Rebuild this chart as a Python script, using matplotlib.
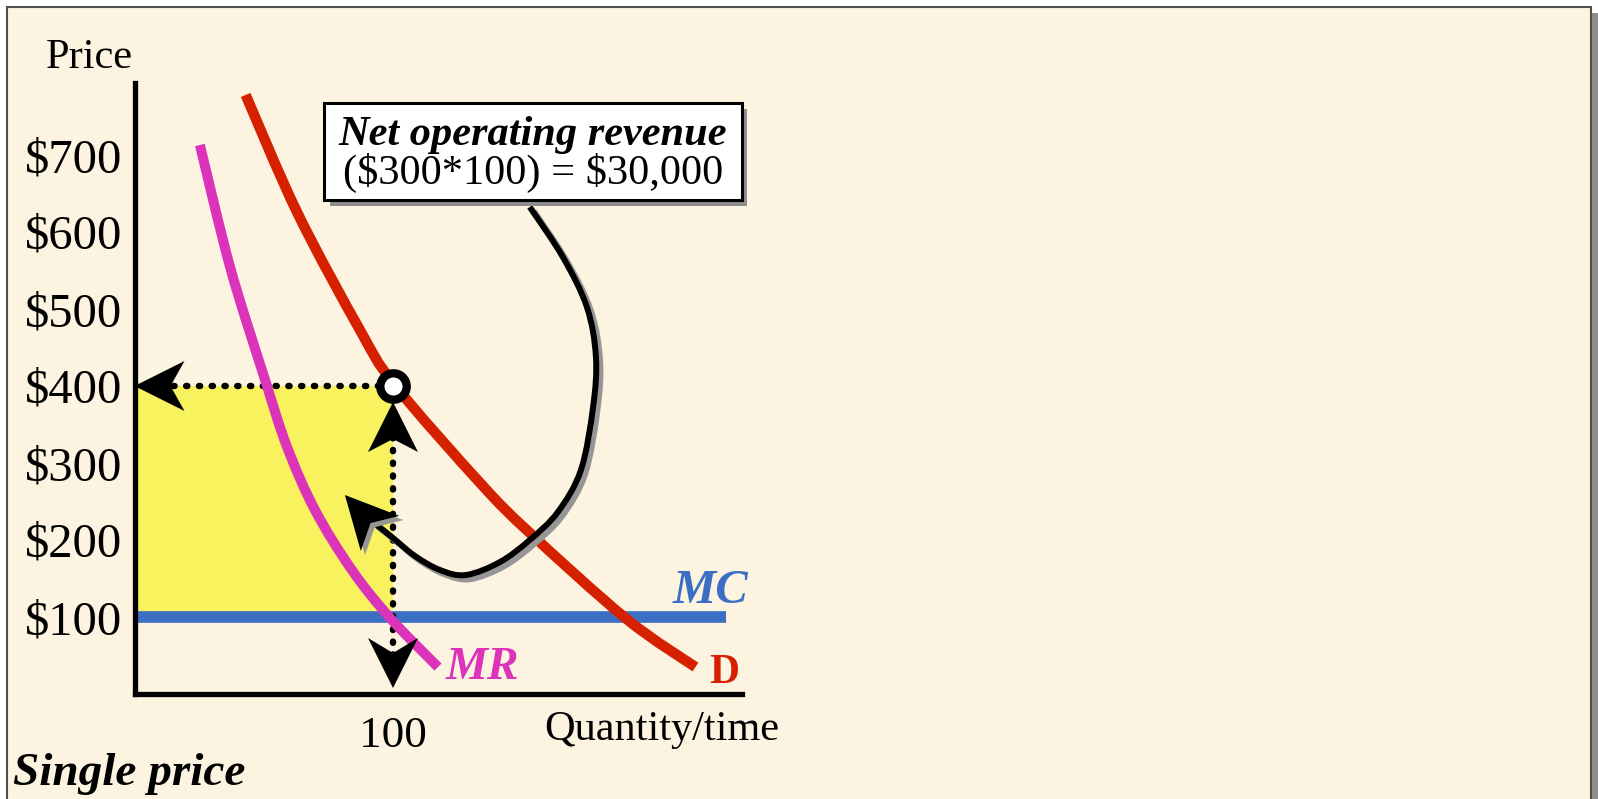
import numpy as np
import matplotlib
matplotlib.use("Agg")
import matplotlib.pyplot as plt
from matplotlib.patches import Rectangle, Polygon, PathPatch
from matplotlib.path import Path
from matplotlib import transforms

plt.rcParams["text.parse_math"] = False

# ---------------- data ----------------
price_ticks = [100, 200, 300, 400, 500, 600, 700]
price_tick_labels = ["$100", "$200", "$300", "$400", "$500", "$600", "$700"]
qty_ticks = [100]
qty_tick_labels = ["100"]

demand_q = [43, 63, 87, 100.5, 134, 153, 190.5, 217]
demand_p = [778, 625, 474, 402, 273, 209, 97, 35]

mr_q = [25.3, 37.1, 50.5, 59.0, 69.8, 84.1, 98.8, 117.4]
mr_p = [713, 553, 408, 321, 239, 161, 99, 35]

mc_price = 100
mc_q = [0, 229]

single_q = 100
single_p = 400

callout_q = [152.9, 165.7, 175.0, 178.5, 177.4, 172.7, 163.8, 152.9, 141.4, 128.2, 118.2, 108.5, 100.0, 92.3]
callout_p = [632.5, 567.5, 502.6, 437.7, 372.7, 290.9, 236.4, 200.0, 171.4, 154.5, 161.0, 179.2, 202.6, 223.4]
callout_tip = (81.4, 258.4)
callout_back = (95, 208.4)

box_title = "Net operating revenue"
box_formula = "($300*100) = $30,000"

# ---------------- figure ----------------
W, H = 1598, 799
fig = plt.figure(figsize=(W / 100, H / 100), dpi=100)
fig.patch.set_facecolor("white")
SERIF = "Liberation Serif"
BG = "#fcf4e1"

def fx(x):
    return x / W

def fy(y):
    return 1 - y / H

# slide frame with shadow
fig.add_artist(Rectangle((fx(1591), fy(805)), 7 / W, (805 - 13) / H,
                         transform=fig.transFigure, fc="#8e8e8e", ec="none", zorder=-3))
fig.add_artist(Rectangle((fx(7), fy(805)), (1591 - 7) / W, (805 - 7) / H,
                         transform=fig.transFigure, fc=BG, ec="#505050", lw=1.5, zorder=-2))

# axes
x0, y0 = 134.5, 694
sx, sy = 2.585, 0.77
xmax, ymax = 235, 793.5
ax = fig.add_axes([fx(x0), (H - y0) / H, xmax * sx / W, ymax * sy / H])
ax.set_xlim(0, xmax)
ax.set_ylim(0, ymax)
ax.patch.set_alpha(0)
for s in ["top", "right"]:
    ax.spines[s].set_visible(False)
for s in ["left", "bottom"]:
    ax.spines[s].set_linewidth(3.8)
    ax.spines[s].set_color("black")
    ax.spines[s].set_zorder(7)

ax.set_yticks(price_ticks)
ax.set_yticklabels(price_tick_labels, fontfamily=SERIF, fontsize=35)
ax.set_xticks(qty_ticks)
ax.set_xticklabels(qty_tick_labels, fontfamily=SERIF, fontsize=32.5)
ax.tick_params(axis="y", length=0, pad=9)
ax.tick_params(axis="x", length=0, pad=16)

fig.canvas.draw()

def smooth_path(xs, ys):
    pts = ax.transData.transform(np.column_stack([xs, ys]))
    n = len(pts)
    verts = [pts[0]]
    codes = [Path.MOVETO]
    for i in range(n - 1):
        p0 = pts[i - 1] if i > 0 else pts[i]
        p1 = pts[i]
        p2 = pts[i + 1]
        p3 = pts[i + 2] if i + 2 < n else pts[i + 1]
        verts += [p1 + (p2 - p0) / 6, p2 - (p3 - p1) / 6, p2]
        codes += [Path.CURVE4] * 3
    verts = ax.transData.inverted().transform(np.array(verts))
    return Path(verts, codes)

def stealth(tip, direction, length=50, half=25, notch=14, color="black",
            zorder=9, tip_offset_px=(0, 0), shadow=False):
    t = ax.transData.transform(tip) + np.array(tip_offset_px)
    d = ax.transData.transform(np.array(tip) + np.array(direction)) - ax.transData.transform(tip)
    d = d / np.linalg.norm(d)
    nrm = np.array([-d[1], d[0]])
    base = t - d * length
    pts = np.array([t, base + nrm * half, t - d * (length - notch), base - nrm * half])
    poly = ax.transData.inverted().transform(pts)
    if shadow:
        off = transforms.ScaledTranslation(3 / 72, -3 / 72, fig.dpi_scale_trans)
        ax.add_patch(Polygon(poly, closed=True, fc="#969696", ec="none",
                             zorder=zorder - 0.5, clip_on=False,
                             transform=ax.transData + off))
    ax.add_patch(Polygon(poly, closed=True, fc=color, ec="none", zorder=zorder, clip_on=False))

# yellow net revenue area
ax.add_patch(Rectangle((0, mc_price), single_q, single_p - mc_price,
                       fc="#f8f25e", ec="none", zorder=1))

# MC line
ax.plot(mc_q, [mc_price, mc_price], color="#3b6fc3", lw=8.4, solid_capstyle="butt", zorder=3)

# dotted guides
dot_kw = dict(color="black", lw=4.6, dashes=(0.2, 1.8), dash_capstyle="round", zorder=4)
ax.plot([0, single_q], [single_p, single_p], **dot_kw)
ax.plot([single_q, single_q], [single_p, 40], **dot_kw)

# MR and D curves
ax.add_patch(PathPatch(smooth_path(mr_q, mr_p), fill=False, ec="#db33b9", lw=7.2,
                       capstyle="butt", zorder=5))
ax.add_patch(PathPatch(smooth_path(demand_q, demand_p), fill=False, ec="#d52100", lw=7.5,
                       capstyle="butt", zorder=5))

# callout curve with shadow
cpath = smooth_path(callout_q, callout_p)
off = transforms.ScaledTranslation(3 / 72, -3 / 72, fig.dpi_scale_trans)
ax.add_patch(PathPatch(cpath, fill=False, ec="#969696", lw=4.3, capstyle="butt",
                       zorder=5.5, transform=ax.transData + off, clip_on=False))
ax.add_patch(PathPatch(cpath, fill=False, ec="black", lw=4.3, capstyle="butt",
                       zorder=6, clip_on=False))

# arrowheads
stealth((0, single_p), (-1, 0), notch=14)
stealth((single_q, single_p), (0, 1), notch=13, tip_offset_px=(0, -16))
stealth((single_q, 0), (0, -1), notch=15, tip_offset_px=(0, 6))
stealth(callout_tip, (callout_tip[0] - callout_back[0], callout_tip[1] - callout_back[1]),
        length=52, half=26, notch=14, shadow=True)

# equilibrium point
ax.plot([single_q], [single_p], "o", ms=19, mfc="white", mec="black", mew=6, zorder=10)

# curve labels
ax.text(222.8, 134, "MC", color="#3b6fc3", fontfamily=SERIF, fontsize=35,
        fontweight="bold", style="italic", ha="center", va="center", zorder=8)
ax.text(120.5, 33.5, "MR", color="#db33b9", fontfamily=SERIF, fontsize=34,
        fontweight="bold", style="italic", ha="left", va="center", zorder=8)
ax.text(222.2, 27, "D", color="#d52100", fontfamily=SERIF, fontsize=30,
        fontweight="bold", ha="left", va="center", zorder=8)

# axis titles and caption
fig.text(fx(89), fy(58), "Price", fontfamily=SERIF, fontsize=30.5, ha="center", va="center")
fig.text(fx(662), fy(730), "Quantity/time", fontfamily=SERIF, fontsize=30.5, ha="center", va="center")
fig.text(fx(13), fy(774), "Single price", fontfamily=SERIF, fontsize=34, fontweight="bold",
         style="italic", ha="left", va="center")

# callout box
fig.add_artist(Rectangle((fx(330), fy(206)), (417) / W, (96.7) / H,
                         transform=fig.transFigure, fc="#8e8e8e", ec="none", zorder=11))
fig.add_artist(Rectangle((fx(324), fy(200)), (417.7) / W, (96.7) / H,
                         transform=fig.transFigure, fc="white", ec="black", lw=2.2, zorder=12))
fig.text(fx(533), fy(135), box_title, fontfamily=SERIF, fontsize=30.5, fontweight="bold",
         style="italic", ha="center", va="center", zorder=13)
fig.text(fx(533), fy(173), box_formula, fontfamily=SERIF, fontsize=30.5,
         ha="center", va="center", zorder=13)

fig.savefig("out.png", dpi=100, facecolor=fig.get_facecolor())
